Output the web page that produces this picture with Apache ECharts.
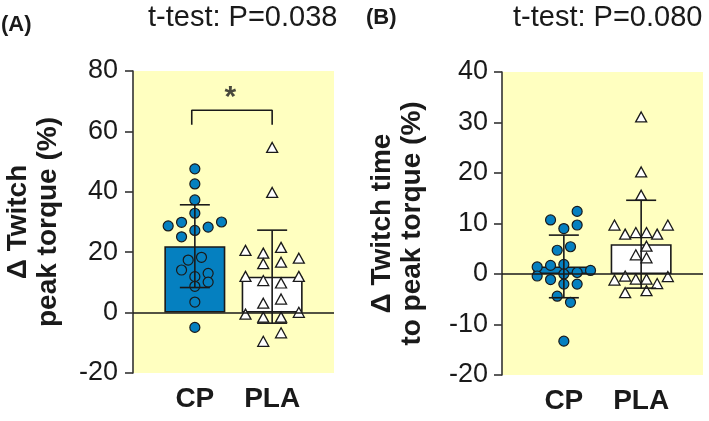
<!DOCTYPE html>
<html>
<head>
<meta charset="utf-8">
<script src="https://cdn.jsdelivr.net/npm/echarts@6/dist/echarts.min.js"></script>
<style>html,body{margin:0;padding:0;background:#fff;}#c{width:709px;height:421px;}</style>
</head>
<body>
<div id="c"></div>
<script>
// ---- data ----
const categories = ['CP', 'PLA'];
const catPos = [1, 2];

// Panel A: Δ Twitch peak torque (%)
const cpA_values  = [47.6, 42.6, 37.3, 32.9, 28.7, 29.9, 30.0, 28.3, 27.2, 25.1, 18.3, 17.4, 14.1, 13.0, 11.9, 10.1, 8.7, 3.5, -4.9];
const cpA_offsets = [0, 0, 0, 0, -0.345, -0.172, 0.345, 0.172, 0, -0.172, 0.086, -0.086, -0.172, 0.172, 0, 0.172, 0, 0, 0];
const plaA_values  = [54.7, 39.8, 20.6, 19.7, 21.6, 18.0, 16.2, 16.7, 12.0, 12.0, 10.6, 9.8, 3.1, 4.5, -0.5, 0.1, -1.5, -1.5, -6.7, -9.5];
const plaA_offsets = [0, 0, -0.345, -0.115, 0.115, 0.345, -0.115, 0.115, -0.345, 0.345, -0.115, 0.115, -0.115, 0.115, -0.345, 0.345, -0.115, 0.115, 0.115, -0.115];
const meansA = [22.0, 11.9];
const sdA    = [13.7, 15.4];
const yTicksA = {min: -20, max: 80, interval: 20};
const titleA = 't-test: P=0.038';
const yNameA = 'Δ Twitch\npeak torque (%)';
const bracketA = [[0.96, 62.2], [0.96, 67], [2, 67], [2, 62.2]];
const starA = [[1.46, 71]];

// Panel B: Δ Twitch time to peak torque (%)
const cpB_values  = [12.4, 10.7, 9.7, 9.0, 5.4, 4.7, 1.4, 1.7, 1.9, 0.7, 0.3, -0.4, 0.0, -1.1, -2.0, -2.0, -4.4, -5.6, -13.3];
const cpB_offsets = [0.172, -0.172, 0.172, 0, 0.086, -0.086, -0.345, -0.172, 0, 0.345, 0.172, -0.345, 0, -0.172, 0, 0.172, -0.086, 0.086, 0];
const plaB_values  = [31.1, 20.2, 15.6, 9.7, 9.7, 7.9, 8.2, 8.2, 7.9, 5.5, 3.8, 3.2, -1.2, -0.4, -1.0, -1.0, -1.9, -0.5, -3.7, -3.3];
const plaB_offsets = [0, 0, 0, -0.345, 0.345, -0.207, -0.069, 0.069, 0.207, 0.069, -0.069, 0.069, -0.345, -0.207, -0.069, 0.069, 0.207, 0.345, -0.207, 0.069];
const meansB = [1.5, 5.9];
const sdB    = [6.2, 8.7];
const yTicksB = {min: -20, max: 40, interval: 10};
const titleB = 't-test: P=0.080';
const yNameB = 'Δ Twitch time\nto peak torque (%)';

// ---- style ----
const FONT = '"Liberation Sans", Arial, sans-serif';
const BLUE = '#0580C0';
const INK = '#1a1a1a';
const YELLOW = '#FFFFC0';

function pts(pos, vals, offs) { return vals.map((v, i) => [pos + offs[i], v]); }

function xAxisFor(gi) {
  return {
    type: 'value', gridIndex: gi, min: 0.2, max: 2.8,
    axisLine: {show: false}, axisTick: {show: false}, splitLine: {show: false},
    axisLabel: {
      customValues: catPos,
      formatter: v => categories[Math.round(v) - 1],
      fontFamily: FONT, fontSize: 28, fontWeight: 'bold', color: INK, margin: 12
    }
  };
}
function yAxisFor(gi, t, name, gap, lm) {
  return {
    type: 'value', gridIndex: gi, min: t.min, max: t.max, interval: t.interval,
    axisLine: {show: true, lineStyle: {color: '#333', width: 1.6}},
    axisTick: {show: true, length: 8, lineStyle: {color: '#333', width: 1.6}},
    splitLine: {show: false},
    axisLabel: {fontFamily: FONT, fontSize: 27, color: INK, margin: lm},
    name: name, nameLocation: 'middle', nameRotate: 90, nameGap: gap,
    nameTextStyle: {fontFamily: FONT, fontSize: 28, fontWeight: 'bold', color: INK, lineHeight: 30}
  };
}
function barSeries(gi, means) {
  return {
    type: 'bar', xAxisIndex: gi, yAxisIndex: gi, barWidth: 61, z: 2,
    data: means.map((m, i) => ({value: [catPos[i], m], itemStyle: {color: i === 0 ? BLUE : '#ffffff'}})),
    itemStyle: {borderColor: INK, borderWidth: 1.6},
    markLine: {silent: true, symbol: ['none', 'none'], label: {show: false},
      lineStyle: {color: INK, width: 1.6, type: 'solid'}, data: [{yAxis: 0}]}
  };
}
function errSeries(gi, means, sds) {
  return {
    type: 'custom', xAxisIndex: gi, yAxisIndex: gi, z: 5,
    data: means.map((m, i) => [catPos[i], m, sds[i]]),
    renderItem: function (params, api) {
      const x = api.value(0), m = api.value(1), s = api.value(2);
      const t = api.coord([x, m + s]), b = api.coord([x, m - s]);
      const st = {stroke: INK, lineWidth: 1.6};
      return {type: 'group', children: [
        {type: 'line', shape: {x1: t[0], y1: t[1], x2: b[0], y2: b[1]}, style: st},
        {type: 'line', shape: {x1: t[0] - 15, y1: t[1], x2: t[0] + 15, y2: t[1]}, style: st},
        {type: 'line', shape: {x1: b[0] - 15, y1: b[1], x2: b[0] + 15, y2: b[1]}, style: st}
      ]};
    }
  };
}
function dotSeries(gi, data) {
  return {type: 'scatter', xAxisIndex: gi, yAxisIndex: gi, z: 4, symbol: 'circle', symbolSize: 10,
    itemStyle: {color: BLUE, borderColor: INK, borderWidth: 1.2, opacity: 1}, data: data};
}
function triSeries(gi, data) {
  return {type: 'scatter', xAxisIndex: gi, yAxisIndex: gi, z: 4, symbol: 'triangle', symbolSize: [11, 10],
    itemStyle: {color: '#ffffff', borderColor: INK, borderWidth: 1.3, opacity: 1}, data: data};
}

const chart = echarts.init(document.getElementById('c'), null, {renderer: 'canvas'});
chart.setOption({
  animation: false,
  backgroundColor: '#ffffff',
  title: [
    {text: '(A)', left: 1, top: 14, padding: 0, textStyle: {fontFamily: FONT, fontSize: 22, fontWeight: 'bold', color: INK}},
    {text: titleA, left: 148, top: 3, padding: 0, textStyle: {fontFamily: FONT, fontSize: 29, fontWeight: 'normal', color: INK}},
    {text: '(B)', left: 366, top: 7, padding: 0, textStyle: {fontFamily: FONT, fontSize: 22, fontWeight: 'bold', color: INK}},
    {text: titleB, left: 513, top: 3, padding: 0, textStyle: {fontFamily: FONT, fontSize: 29, fontWeight: 'normal', color: INK}}
  ],
  grid: [
    {left: 133, top: 71, width: 201, height: 302, show: true, backgroundColor: YELLOW, borderWidth: 0},
    {left: 502, top: 72, width: 201, height: 303, show: true, backgroundColor: YELLOW, borderWidth: 0}
  ],
  xAxis: [xAxisFor(0), xAxisFor(1)],
  yAxis: [yAxisFor(0, yTicksA, yNameA, 70, 15), yAxisFor(1, yTicksB, yNameB, 75, 14)],
  series: [
    barSeries(0, meansA),
    dotSeries(0, pts(catPos[0], cpA_values, cpA_offsets)),
    triSeries(0, pts(catPos[1], plaA_values, plaA_offsets)),
    errSeries(0, meansA, sdA),
    {type: 'line', xAxisIndex: 0, yAxisIndex: 0, z: 5, symbol: 'none', data: bracketA,
      lineStyle: {color: INK, width: 1.6}},
    {type: 'scatter', xAxisIndex: 0, yAxisIndex: 0, z: 5, symbolSize: 0, data: starA,
      label: {show: true, position: 'inside', formatter: '*', fontFamily: FONT, fontSize: 30, fontWeight: 'bold', color: INK}},
    barSeries(1, meansB),
    dotSeries(1, pts(catPos[0], cpB_values, cpB_offsets)),
    triSeries(1, pts(catPos[1], plaB_values, plaB_offsets)),
    errSeries(1, meansB, sdB)
  ]
});
</script>
</body>
</html>
